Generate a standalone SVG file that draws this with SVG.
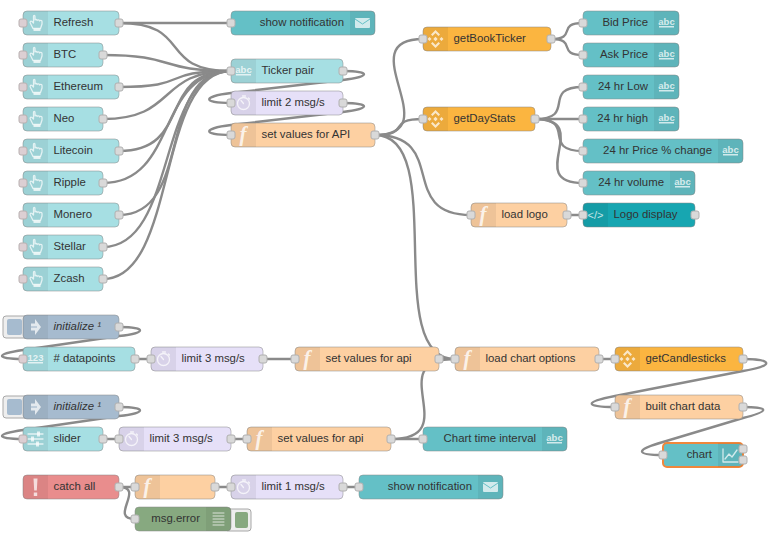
<svg xmlns="http://www.w3.org/2000/svg" width="775" height="538" viewBox="0 0 775 538">
<style>
text{font-family:"Liberation Sans",Arial,sans-serif;font-size:11.4px;fill:#333}
.w{fill:none;stroke:#8a8a8a;stroke-width:2.4;stroke-linecap:round}
.b{stroke:#888;stroke-opacity:.5;stroke-width:1}
.band{fill:#000;fill-opacity:.06}
.pt{fill:#d9d9d9;stroke:#b0b0b0;stroke-width:1}
.pk{fill:#dccfd3;stroke:#b8b0b0;stroke-width:1}
.i{fill:#fff;fill-opacity:.72}
.s{fill:none;stroke:#fff;stroke-opacity:.72;stroke-width:1.3;stroke-linecap:round;stroke-linejoin:round}
.inj{fill:#a6dfe3}.not{fill:#64c0c6}.tic{fill:#a6dfe3}.lim{fill:#e6e0f8}.fn{fill:#fdd0a2}.bin{fill:#fbb540}.tpl{fill:#17a6b1}.ini{fill:#a6bbcf}.cat{fill:#e98d8d}.dbg{fill:#87a980}
.ab{font-size:9.5px;font-weight:bold;fill:#fff;fill-opacity:.75;text-anchor:middle}
.f{font-family:"Liberation Serif",serif;font-size:21px;font-style:italic;font-weight:bold;fill:#fff;fill-opacity:.8;text-anchor:middle}
.e{text-anchor:end}
.it{font-style:italic}
.btn{fill:#eee;stroke:#a8a8a8}
</style>
<defs>
<rect id="p" class="pt" x="-4" y="-4" width="8" height="8" rx="2"/>
<rect id="q" class="pk" x="-4" y="-4" width="8" height="8" rx="2"/>
<path id="bl" class="band" d="M4,0H25V24H4a4,4 0 0 1 -4,-4V4a4,4 0 0 1 4,-4z"/>
<path id="br" class="band" d="M0,0H21a4,4 0 0 1 4,4V20a4,4 0 0 1 -4,4H0z"/>
<g id="hand"><path class="s" d="M10.500,5.500V12L9,10.500C7.500,9.500 6.500,11 7.500,12.500L10,17.500H17.500L19,13V10.500C19,9 17,9 16.500,10C16.500,8.500 14.500,8.500 14,9.500C14,8 12.500,8 12,9V5.500C12,4 10.500,4 10.500,5.500Z"/><path class="i" d="M10.500,17.500h7v2.500h-7z"/></g>
<g id="mail"><rect class="i" x="5" y="7" width="15" height="10" rx="1"/><path d="M5,8L12.500,13L20,8" fill="none" stroke="#64c0c6" stroke-width="1"/></g>
<g id="abcI"><text class="ab" x="12.500" y="13.500">abc</text><rect class="i" x="5" y="15" width="15" height="1.500"/></g>
<g id="clock"><circle class="s" cx="12.500" cy="12.500" r="6"/><path class="s" d="M10,9.500L12.500,12.500M14.500,5h-3M17.500,7l1,1"/></g>
<path id="bn" class="i" d="M12.500,3L17,7.500 15.500,9 12.500,6 9.500,9 8,7.500zM12.500,21L17,16.500 15.500,15 12.500,18 9.500,15 8,16.500zM12.500,9.800L14.700,12 12.500,14.200 10.300,12zM6.500,10L8.500,12 6.500,14 4.500,12zM18.500,10L20.500,12 18.500,14 16.500,12z"/>
<g id="arr"><path class="i" d="M8,8.500h4V4L18,12 12,20V15.500H8z"/><path d="M8,12h6" stroke="#a6bbcf" stroke-width="1.200"/></g>
</defs>
<g id="connectors">
<path class="w" d="M119,23H231"/>
<path class="w" d="M119,23C194,23 156,71 231,71"/>
<path class="w" d="M103,55C178,55 156,71 231,71"/>
<path class="w" d="M119,87C194,87 156,71 231,71"/>
<path class="w" d="M103,119C178,119 156,71 231,71"/>
<path class="w" d="M119,151C194,151 156,71 231,71"/>
<path class="w" d="M103,183C178,183 156,71 231,71"/>
<path class="w" d="M119,215C194,215 156,71 231,71"/>
<path class="w" d="M103,247C178,247 156,71 231,71"/>
<path class="w" d="M103,279C178,279 156,71 231,71"/>
<path class="w" d="M343,71C371,71 371,76.800 343,80L231,93C202,96.400 202,103 231,103"/>
<path class="w" d="M343,103C371,103 371,108.800 343,112L231,125C202,128.400 202,135 231,135"/>
<path class="w" d="M375,135C450,135 348,39 423,39"/>
<path class="w" d="M375,135C413,135 385,119 423,119"/>
<path class="w" d="M375,135C450,135 396,215 471,215"/>
<path class="w" d="M375,135C450,135 380,359 455,359"/>
<path class="w" d="M551,39C578,39 556,23 583,23"/>
<path class="w" d="M551,39C578,39 556,55 583,55"/>
<path class="w" d="M535,119C578,119 540,87 583,87"/>
<path class="w" d="M535,119H583"/>
<path class="w" d="M535,119C578,119 540,151 583,151"/>
<path class="w" d="M535,119C595,119 523,183 583,183"/>
<path class="w" d="M567,215H583"/>
<path class="w" d="M119,327C147,327 147,333 119,336L23,350C-5,354 -5,359 23,359"/>
<path class="w" d="M135,359H151"/>
<path class="w" d="M263,359H295"/>
<path class="w" d="M439,359H455"/>
<path class="w" d="M599,359H615"/>
<path class="w" d="M743,359C774,359 774,366 743,371L615,396C584,402 584,407 615,407"/>
<path class="w" d="M743,407C770,407 770,411 743,418L663,442C635,450 635,455 663,455"/>
<path class="w" d="M119,407C147,407 147,413 119,416L23,430C-5,434 -5,439 23,439"/>
<path class="w" d="M103,439H119"/>
<path class="w" d="M231,439H247"/>
<path class="w" d="M391,439H423"/>
<path class="w" d="M391,439C466,439 380,359 455,359"/>
<path class="w" d="M119,487H135"/>
<path class="w" d="M119,487C146,487 108,519 135,519"/>
<path class="w" d="M215,487H231"/>
<path class="w" d="M343,487H359"/>
</g>

<g id="refresh" transform="translate(23,11)"><rect class="b inj" width="96" height="24" rx="4"/><use href="#bl"/><use href="#hand"/><text x="30.500" y="15">Refresh</text><use href="#q" y="12"/><use href="#p" x="96" y="12"/></g>
<g id="btc" transform="translate(23,43)"><rect class="b inj" width="80" height="24" rx="4"/><use href="#bl"/><use href="#hand"/><text x="30.500" y="15">BTC</text><use href="#q" y="12"/><use href="#p" x="80" y="12"/></g>
<g id="ethereum" transform="translate(23,75)"><rect class="b inj" width="96" height="24" rx="4"/><use href="#bl"/><use href="#hand"/><text x="30.500" y="15">Ethereum</text><use href="#q" y="12"/><use href="#p" x="96" y="12"/></g>
<g id="neo" transform="translate(23,107)"><rect class="b inj" width="80" height="24" rx="4"/><use href="#bl"/><use href="#hand"/><text x="30.500" y="15">Neo</text><use href="#q" y="12"/><use href="#p" x="80" y="12"/></g>
<g id="litecoin" transform="translate(23,139)"><rect class="b inj" width="96" height="24" rx="4"/><use href="#bl"/><use href="#hand"/><text x="30.500" y="15">Litecoin</text><use href="#q" y="12"/><use href="#p" x="96" y="12"/></g>
<g id="ripple" transform="translate(23,171)"><rect class="b inj" width="80" height="24" rx="4"/><use href="#bl"/><use href="#hand"/><text x="30.500" y="15">Ripple</text><use href="#q" y="12"/><use href="#p" x="80" y="12"/></g>
<g id="monero" transform="translate(23,203)"><rect class="b inj" width="96" height="24" rx="4"/><use href="#bl"/><use href="#hand"/><text x="30.500" y="15">Monero</text><use href="#q" y="12"/><use href="#p" x="96" y="12"/></g>
<g id="stellar" transform="translate(23,235)"><rect class="b inj" width="80" height="24" rx="4"/><use href="#bl"/><use href="#hand"/><text x="30.500" y="15">Stellar</text><use href="#q" y="12"/><use href="#p" x="80" y="12"/></g>
<g id="zcash" transform="translate(23,267)"><rect class="b inj" width="80" height="24" rx="4"/><use href="#bl"/><use href="#hand"/><text x="30.500" y="15">Zcash</text><use href="#q" y="12"/><use href="#p" x="80" y="12"/></g>

<g id="show-notification-1" transform="translate(231,11)"><rect class="b not" width="144" height="24" rx="4"/><use href="#br" x="119"/><use href="#mail" x="119"/><text class="e" x="113" y="15">show notification</text><use href="#p" y="12"/></g>
<g id="ticker-pair" transform="translate(231,59)"><rect class="b tic" width="112" height="24" rx="4"/><use href="#bl"/><use href="#abcI"/><text x="30.500" y="15">Ticker pair</text><use href="#p" y="12"/><use href="#p" x="112" y="12"/></g>
<g id="limit-2" transform="translate(231,91)"><rect class="b lim" width="112" height="24" rx="4"/><use href="#bl"/><use href="#clock"/><text x="30.500" y="15">limit 2 msg/s</text><use href="#p" y="12"/><use href="#p" x="112" y="12"/></g>
<g id="set-values-API" transform="translate(231,123)"><rect class="b fn" width="144" height="24" rx="4"/><use href="#bl"/><text class="f" x="12" y="18">f</text><text x="30.500" y="15">set values for API</text><use href="#p" y="12"/><use href="#p" x="144" y="12"/></g>

<g id="getBookTicker" transform="translate(423,27)"><rect class="b bin" width="128" height="24" rx="4"/><use href="#bl"/><use href="#bn"/><text x="30.500" y="15">getBookTicker</text><use href="#p" y="12"/><use href="#p" x="128" y="12"/></g>
<g id="getDayStats" transform="translate(423,107)"><rect class="b bin" width="112" height="24" rx="4"/><use href="#bl"/><use href="#bn"/><text x="30.500" y="15">getDayStats</text><use href="#p" y="12"/><use href="#p" x="112" y="12"/></g>

<g id="bid-price" transform="translate(583,11)"><rect class="b not" width="96" height="24" rx="4"/><use href="#br" x="71"/><use href="#abcI" x="71"/><text class="e" x="65" y="15">Bid Price</text><use href="#p" y="12"/></g>
<g id="ask-price" transform="translate(583,43)"><rect class="b not" width="96" height="24" rx="4"/><use href="#br" x="71"/><use href="#abcI" x="71"/><text class="e" x="65" y="15">Ask Price</text><use href="#p" y="12"/></g>
<g id="low" transform="translate(583,75)"><rect class="b not" width="96" height="24" rx="4"/><use href="#br" x="71"/><use href="#abcI" x="71"/><text class="e" x="65" y="15">24 hr Low</text><use href="#p" y="12"/></g>
<g id="high" transform="translate(583,107)"><rect class="b not" width="96" height="24" rx="4"/><use href="#br" x="71"/><use href="#abcI" x="71"/><text class="e" x="65" y="15">24 hr high</text><use href="#p" y="12"/></g>
<g id="change" transform="translate(583,139)"><rect class="b not" width="160" height="24" rx="4"/><use href="#br" x="135"/><use href="#abcI" x="135"/><text class="e" x="129" y="15">24 hr Price % change</text><use href="#p" y="12"/></g>
<g id="volume" transform="translate(583,171)"><rect class="b not" width="112" height="24" rx="4"/><use href="#br" x="87"/><use href="#abcI" x="87"/><text class="e" x="81" y="15">24 hr volume</text><use href="#p" y="12"/></g>
<g id="load-logo" transform="translate(471,203)"><rect class="b fn" width="96" height="24" rx="4"/><use href="#bl"/><text class="f" x="12" y="18">f</text><text x="30.500" y="15">load logo</text><use href="#p" y="12"/><use href="#p" x="96" y="12"/></g>
<g id="logo-display" transform="translate(583,203)"><rect class="b tpl" width="112" height="24" rx="4"/><use href="#bl"/><text class="ab" x="12.500" y="16" style="font-size:11px;font-weight:normal">&lt;/&gt;</text><text x="30.500" y="15">Logo display</text><use href="#p" y="12"/><use href="#p" x="112" y="12"/></g>

<g id="initialize-1" transform="translate(23,315)"><rect class="btn" x="-20" y="1" width="26" height="22" rx="3"/><rect class="ini" x="-16" y="4" width="15" height="16" rx="2"/><rect class="b ini" width="96" height="24" rx="4"/><use href="#bl"/><use href="#arr"/><text class="it" x="30.500" y="15">initialize ¹</text><use href="#p" x="96" y="12"/></g>
<g id="datapoints" transform="translate(23,347)"><rect class="b tic" width="112" height="24" rx="4"/><use href="#bl"/><text class="ab" x="12.500" y="13.500">123</text><rect class="i" x="5" y="15" width="15" height="1.500"/><text x="30.500" y="15"># datapoints</text><use href="#q" y="12"/><use href="#p" x="112" y="12"/></g>
<g id="limit-3a" transform="translate(151,347)"><rect class="b lim" width="112" height="24" rx="4"/><use href="#bl"/><use href="#clock"/><text x="30.500" y="15">limit 3 msg/s</text><use href="#p" y="12"/><use href="#p" x="112" y="12"/></g>
<g id="set-values-api-a" transform="translate(295,347)"><rect class="b fn" width="144" height="24" rx="4"/><use href="#bl"/><text class="f" x="12" y="18">f</text><text x="30.500" y="15">set values for api</text><use href="#p" y="12"/><use href="#p" x="144" y="12"/></g>
<g id="load-chart-options" transform="translate(455,347)"><rect class="b fn" width="144" height="24" rx="4"/><use href="#bl"/><text class="f" x="12" y="18">f</text><text x="30.500" y="15">load chart options</text><use href="#p" y="12"/><use href="#p" x="144" y="12"/></g>
<g id="getCandlesticks" transform="translate(615,347)"><rect class="b bin" width="128" height="24" rx="4"/><use href="#bl"/><use href="#bn"/><text x="30.500" y="15">getCandlesticks</text><use href="#p" y="12"/><use href="#p" x="128" y="12"/></g>
<g id="built-chart-data" transform="translate(615,395)"><rect class="b fn" width="128" height="24" rx="4"/><use href="#bl"/><text class="f" x="12" y="18">f</text><text x="30.500" y="15">built chart data</text><use href="#p" y="12"/><use href="#p" x="128" y="12"/></g>
<g id="chart" transform="translate(663,443)"><rect class="not" width="80" height="24" rx="4" stroke="#f0873c" stroke-width="2"/><use href="#br" x="55"/><path class="s" d="M60,6V19H75M62,16l4,-5 3,3 5,-7"/><text class="e" x="49" y="15">chart</text><use href="#p" y="12"/><use href="#p" x="80" y="6"/><use href="#p" x="80" y="17"/></g>

<g id="initialize-2" transform="translate(23,395)"><rect class="btn" x="-20" y="1" width="26" height="22" rx="3"/><rect class="ini" x="-16" y="4" width="15" height="16" rx="2"/><rect class="b ini" width="96" height="24" rx="4"/><use href="#bl"/><use href="#arr"/><text class="it" x="30.500" y="15">initialize ¹</text><use href="#p" x="96" y="12"/></g>
<g id="slider" transform="translate(23,427)"><rect class="b tic" width="80" height="24" rx="4"/><use href="#bl"/><path class="s" d="M5,7H20M5,12H20M5,17H20"/><path class="i" d="M14,4.500h3v5h-3zM8,9.500h3v5h-3zM13,14.500h3v5h-3z"/><text x="30.500" y="15">slider</text><use href="#q" y="12"/><use href="#p" x="80" y="12"/></g>
<g id="limit-3b" transform="translate(119,427)"><rect class="b lim" width="112" height="24" rx="4"/><use href="#bl"/><use href="#clock"/><text x="30.500" y="15">limit 3 msg/s</text><use href="#p" y="12"/><use href="#p" x="112" y="12"/></g>
<g id="set-values-api-b" transform="translate(247,427)"><rect class="b fn" width="144" height="24" rx="4"/><use href="#bl"/><text class="f" x="12" y="18">f</text><text x="30.500" y="15">set values for api</text><use href="#p" y="12"/><use href="#p" x="144" y="12"/></g>
<g id="chart-time-interval" transform="translate(423,427)"><rect class="b not" width="144" height="24" rx="4"/><use href="#br" x="119"/><use href="#abcI" x="119"/><text class="e" x="113" y="15">Chart time interval</text><use href="#p" y="12"/></g>

<g id="catch-all" transform="translate(23,475)"><rect class="b cat" width="96" height="24" rx="4"/><use href="#bl"/><path class="i" d="M10.500,3.500h4l-.7,12h-2.600zM10.800,17.500h3.400v3.400h-3.400z"/><text x="30.500" y="15">catch all</text><use href="#p" x="96" y="12"/></g>
<g id="unnamed-function" transform="translate(135,475)"><rect class="b fn" width="80" height="24" rx="4"/><use href="#bl"/><text class="f" x="12" y="18">f</text><use href="#p" y="12"/><use href="#p" x="80" y="12"/></g>
<g id="limit-1" transform="translate(231,475)"><rect class="b lim" width="112" height="24" rx="4"/><use href="#bl"/><use href="#clock"/><text x="30.500" y="15">limit 1 msg/s</text><use href="#p" y="12"/><use href="#p" x="112" y="12"/></g>
<g id="show-notification-2" transform="translate(359,475)"><rect class="b not" width="144" height="24" rx="4"/><use href="#br" x="119"/><use href="#mail" x="119"/><text class="e" x="113" y="15">show notification</text><use href="#p" y="12"/></g>
<g id="msg-error" transform="translate(135,507)"><rect class="btn" x="90" y="2" width="26" height="22" rx="3"/><rect class="dbg" x="100" y="5" width="13" height="16" rx="2"/><rect class="b dbg" width="96" height="24" rx="4"/><use href="#br" x="71"/><path class="s" d="M78,6H89M78,9H89M78,12H89M78,15H89M78,18H89" style="stroke-width:1"/><text class="e" x="65" y="15">msg.error</text><use href="#p" y="12"/></g>
</svg>
